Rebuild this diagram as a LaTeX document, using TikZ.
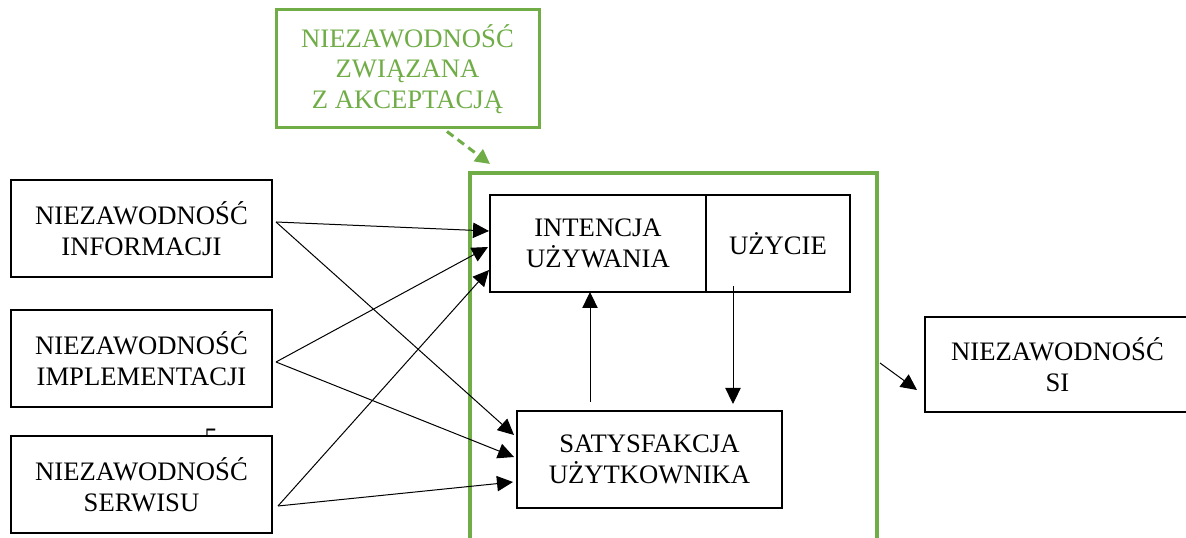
\documentclass[tikz,border=0pt]{standalone}
\usepackage{fontspec}
\setmainfont{Liberation Serif}
\usetikzlibrary{arrows.meta,calc}
\definecolor{ogreen}{HTML}{70AD47}
\begin{document}
\begin{tikzpicture}[x=0.75pt,y=-0.75pt,
  box/.style={draw=black, line width=1.5pt, fill=white, align=center, inner sep=0pt,
    font=\fontsize{20}{23}\selectfont, minimum height=72.75pt},
  gbox/.style={draw=ogreen, line width=2.25pt, fill=white, align=center, inner sep=0pt,
    text=ogreen, font=\fontsize{20}{23}\selectfont},
  frame/.style={draw=ogreen, line width=3pt, inner sep=0pt},
  arr/.style={line width=0.75pt, -{Triangle[length=12pt,width=11.5pt]}},
  garr/.style={draw=ogreen, line width=2.25pt, dash pattern=on 6pt off 4pt,
    -{Triangle[length=11pt,width=11pt,fill=ogreen]}},
]
\useasboundingbox[fill=white] (0,0) rectangle (1186,538);

% stray glyph
\node[font=\fontsize{20}{22}\selectfont, anchor=base, inner sep=0pt] (five) at (211,446) {5};

% left boxes
\node[box, minimum width=195.75pt] (b1) at (141.5,228.5) {NIEZAWODNOŚĆ\\INFORMACJI};
\node[box, minimum width=195.75pt] (b2) at (141.5,358.5) {NIEZAWODNOŚĆ\\IMPLEMENTACJI};
\node[box, minimum width=195.75pt] (b3) at (141.5,484.5) {NIEZAWODNOŚĆ\\SERWISU};

% green frame and top box
\node[frame, minimum width=305.25pt, minimum height=290.25pt] (frame) at (673.5,366.5) {};
\node[gbox, minimum width=197.25pt, minimum height=88.5pt] (top) at (407.5,69) {NIEZAWODNOŚĆ\\ZWIĄZANA\\Z AKCEPTACJĄ};

% inner boxes
\node[box, minimum width=162pt] (int) at (598,243.5) {INTENCJA\\UŻYWANIA};
\node[box, minimum width=108pt] (uz) at (778,243.5) {UŻYCIE};
\node[box, minimum width=198.75pt] (sat) at (649.5,459.5) {SATYSFAKCJA\\UŻYTKOWNIKA};

% right box
\node[box, minimum width=198.75pt, minimum height=71.25pt] (si) at (1057.5,364.5) {NIEZAWODNOŚĆ\\SI};

% connectors
\draw[arr] ($(b1.east)+(3,-6.5)$) -- ($(int.west)+(0,-12.5)$);
\draw[arr] ($(b1.east)+(3,-6.5)$) -- ($(sat.west)+(-2,-24.5)$);
\draw[arr] ($(b2.east)+(3,3.5)$) -- ($(int.west)+(-1,3.5)$);
\draw[arr] ($(b2.east)+(3,3.5)$) -- ($(sat.west)+(-2,-2.5)$);
\draw[arr] ($(b3.east)+(5,21.5)$) -- ($(int.west)+(0,26.5)$);
\draw[arr] ($(b3.east)+(5,21.5)$) -- ($(sat.west)+(-3,22.5)$);
\draw[arr] ($(sat.north)+(-59.5,-8)$) -- ($(int.south)+(-8,-1)$);
\draw[arr] ($(uz.south)+(-45,-7)$) -- ($(sat.north)+(83.5,-6)$);
\draw[arr] ($(frame.east)+(1,-3.5)$) -- ($(si.west)+(-7,25.5)$);
\draw[garr] ($(top.south)+(39.5,2)$) -- ($(frame.north)+(-183.5,-7)$);
\end{tikzpicture}
\end{document}
